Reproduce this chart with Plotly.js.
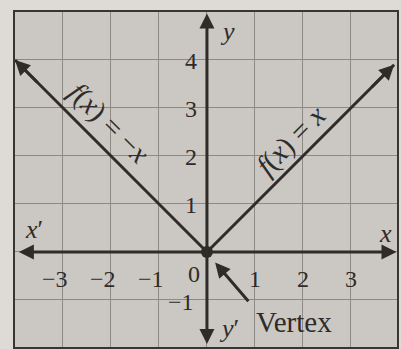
<!DOCTYPE html>
<html>
<head>
<meta charset="utf-8">
<script src="https://cdn.plot.ly/plotly-3.0.1.min.js"></script>
<style>html,body{margin:0;padding:0;background:#dedad6;}</style>
</head>
<body>
<div id="chart" style="width:401px;height:349px;"></div>
<script>
// Data
const leftX = [-4, 0];
const leftY = [4, 0];
const rightX = [0, 3.9];
const rightY = [0, 3.9];
const vertexX = [0];
const vertexY = [0];
const xTickVals = [-3, -2, -1, 1, 2, 3];
const xTickText = ['\u22123', '\u22122', '\u22121', '1', '2', '3'];
const yTickVals = [1, 2, 3, 4];
const yTickText = ['1', '2', '3', '4'];
const yNegVals = [-1];
const yNegText = ['\u22121'];

const ink = '#2f2b29';
const serif = 'Liberation Serif, Times New Roman, serif';

const traces = [
  {x: leftX, y: leftY, mode: 'lines', line: {color: ink, width: 3}, hoverinfo: 'skip'},
  {x: rightX, y: rightY, mode: 'lines', line: {color: ink, width: 3}, hoverinfo: 'skip'},
  {x: vertexX, y: vertexY, mode: 'markers', marker: {color: ink, size: 12}, hoverinfo: 'skip'}
];

const ann = [];
ann.push({x: 3.95, y: 0, ax: -3.95, ay: 0, xref: 'x', yref: 'y', axref: 'x', ayref: 'y',
  showarrow: true, arrowhead: 2, arrowside: 'end+start', arrowsize: 1, arrowwidth: 3, arrowcolor: ink, text: ''});
ann.push({x: 0, y: 4.97, ax: 0, ay: -1.95, xref: 'x', yref: 'y', axref: 'x', ayref: 'y',
  showarrow: true, arrowhead: 2, arrowside: 'end+start', arrowsize: 1, arrowwidth: 3, arrowcolor: ink, text: ''});
ann.push({x: leftX[0], y: leftY[0], ax: leftX[0] + 0.5, ay: leftY[0] - 0.5, xref: 'x', yref: 'y', axref: 'x', ayref: 'y',
  showarrow: true, arrowhead: 2, arrowsize: 1, arrowwidth: 3, arrowcolor: ink, text: ''});
ann.push({x: rightX[1], y: rightY[1], ax: rightX[1] - 0.5, ay: rightY[1] - 0.5, xref: 'x', yref: 'y', axref: 'x', ayref: 'y',
  showarrow: true, arrowhead: 2, arrowsize: 1, arrowwidth: 3, arrowcolor: ink, text: ''});
ann.push({x: 0.17, y: -0.22, ax: 0.89, ay: -1.06, xref: 'x', yref: 'y', axref: 'x', ayref: 'y',
  showarrow: true, arrowhead: 2, arrowsize: 1, arrowwidth: 3, arrowcolor: ink, text: ''});
ann.push({x: 1.82, y: -1.46, xref: 'x', yref: 'y', text: 'Vertex', showarrow: false,
  font: {family: serif, size: 29, color: ink}});

const tickFont = {family: serif, size: 24, color: ink};
xTickVals.forEach((v, i) => {
  ann.push({x: v, y: 0, xref: 'x', yref: 'y', text: xTickText[i], showarrow: false,
    xshift: v < 0 ? -8 : 0, yshift: -27, font: tickFont});
});
ann.push({x: 0, y: 0, xref: 'x', yref: 'y', text: '0', showarrow: false, xshift: -13, yshift: -22, font: tickFont});
yTickVals.forEach((v, i) => {
  ann.push({x: 0, y: v, xref: 'x', yref: 'y', text: yTickText[i], showarrow: false, xshift: -16, yshift: -1, font: tickFont});
});
yNegVals.forEach((v, i) => {
  ann.push({x: 0, y: v, xref: 'x', yref: 'y', text: yNegText[i], showarrow: false, xshift: -26, yshift: -2, font: tickFont});
});
const italic = {family: serif, size: 26, color: ink};
ann.push({x: -3.6, y: 0.46, xref: 'x', yref: 'y', text: "<i>x</i>\u2032", showarrow: false, font: italic});
ann.push({x: 3.72, y: 0.38, xref: 'x', yref: 'y', text: '<i>x</i>', showarrow: false, font: italic});
ann.push({x: 0.42, y: 4.6, xref: 'x', yref: 'y', text: '<i>y</i>', showarrow: false, font: italic});
ann.push({x: 0.46, y: -1.6, xref: 'x', yref: 'y', text: '<i>y</i>\u2032', showarrow: false, font: italic});
ann.push({x: -2.05, y: 2.7, xref: 'x', yref: 'y', text: '<i>f</i>(<i>x</i>) = \u2212<i>x</i>', showarrow: false,
  textangle: 45, font: {family: serif, size: 29, color: ink}});
ann.push({x: 1.75, y: 2.32, xref: 'x', yref: 'y', text: '<i>f</i>(<i>x</i>) = <i>x</i>', showarrow: false,
  textangle: -45, font: {family: serif, size: 29, color: ink}});

const layout = {
  width: 401, height: 349,
  margin: {l: 15, r: 4, t: 12, b: 2},
  paper_bgcolor: '#dedad6',
  plot_bgcolor: '#cbc7c3',
  showlegend: false,
  xaxis: {range: [-4, 3.96], dtick: 1, tick0: 0, showgrid: true, gridcolor: '#8f8985', gridwidth: 1,
    zeroline: false, showticklabels: false, ticks: '', showline: true, mirror: true, linecolor: '#3a3532', linewidth: 2,
    fixedrange: true},
  yaxis: {range: [-1.98, 5], dtick: 1, tick0: 0, showgrid: true, gridcolor: '#8f8985', gridwidth: 1,
    zeroline: false, showticklabels: false, ticks: '', showline: true, mirror: true, linecolor: '#3a3532', linewidth: 2,
    fixedrange: true},
  annotations: ann
};

Plotly.newPlot('chart', traces, layout, {displayModeBar: false, staticPlot: true});
</script>
</body>
</html>
